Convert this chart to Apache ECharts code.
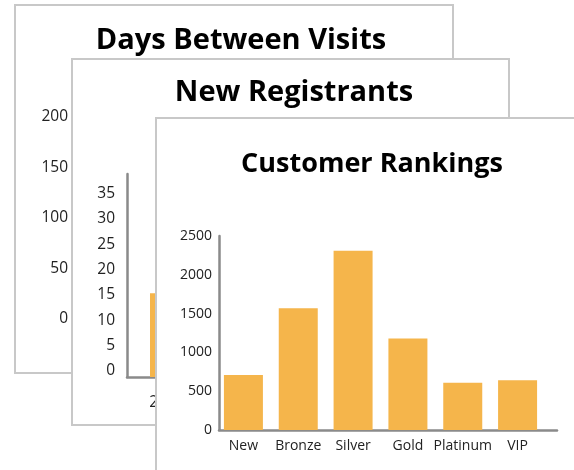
<!DOCTYPE html>
<html>
<head>
<meta charset="utf-8">
<script src="https://cdn.jsdelivr.net/npm/echarts@6/dist/echarts.min.js"></script>
<style>
  body {
    margin: 0;
    width: 574px;
    height: 470px;
    overflow: hidden;
    background: #fff;
    position: relative;
  }
  .card {
    position: absolute;
    box-sizing: border-box;
    border: 2px solid #c8c8c8;
    background: #fff;
  }
  .card .chart {
    position: absolute;
    left: 0;
    top: 0;
    width: 100%;
    height: 100%;
  }
</style>
</head>
<body>
<div class="card" style="left:14px;top:4px;width:440px;height:370px"><div class="chart" id="visits-chart"></div></div>
<div class="card" style="left:71px;top:58px;width:439px;height:368px"><div class="chart" id="registrants-chart"></div></div>
<div class="card" style="left:155px;top:117px;width:422px;height:370px"><div class="chart" id="rankings-chart"></div></div>

<script>
const visitTicks = [0, 50, 100, 150, 200]
const visitCategories = []
const visitValues = []

const registrantTicks = [0, 5, 10, 15, 20, 25, 30, 35, 40]
const registrantCategories = ['2011', '2012', '2013', '2014']
const registrantValues = [16.5, null, null, null]

const rankingTicks = [0, 500, 1000, 1500, 2000, 2500]
const rankingCategories = ['New', 'Bronze', 'Silver', 'Gold', 'Platinum', 'VIP']
const rankingValues = [710, 1570, 2310, 1180, 610, 640]

const FONT = 'Open Sans'
const BAR_COLOR = '#f5b54b'
const AXIS_LINE = { show: true, lineStyle: { color: '#8a8a8a', width: 2.5 } }
const plain = v => String(v)

function tickRange (ticks) {
  return { min: ticks[0], max: ticks[ticks.length - 1], interval: ticks[1] - ticks[0] }
}

function titleOf (text, x, y, size) {
  return {
    text: text,
    left: x,
    top: y,
    padding: 0,
    textAlign: 'center',
    textStyle: { fontFamily: FONT, fontWeight: 'bold', fontSize: size, color: '#000' }
  }
}

// back card
const visitsChart = echarts.init(document.getElementById('visits-chart'))
visitsChart.setOption({
  animation: false,
  title: titleOf('Days Between Visits', 225, 20, 29),
  grid: { left: 60, top: 111, width: 360, height: 202 },
  xAxis: {
    type: 'category',
    data: visitCategories,
    axisLine: AXIS_LINE,
    axisTick: { show: false }
  },
  yAxis: {
    type: 'value',
    ...tickRange(visitTicks),
    axisLine: AXIS_LINE,
    axisTick: { show: false },
    splitLine: { show: false },
    axisLabel: { fontFamily: FONT, fontSize: 15.5, color: '#222', margin: 8, formatter: plain }
  },
  series: [{ type: 'bar', data: visitValues, itemStyle: { color: BAR_COLOR } }]
})

// middle card
const registrantsChart = echarts.init(document.getElementById('registrants-chart'))
registrantsChart.setOption({
  animation: false,
  title: titleOf('New Registrants', 221, 18, 29),
  grid: { left: 54, top: 114, width: 320, height: 203 },
  xAxis: {
    type: 'category',
    data: registrantCategories,
    axisLine: AXIS_LINE,
    axisTick: { show: false },
    axisLabel: { fontFamily: FONT, fontSize: 15.5, color: '#222', margin: 18, interval: 0 }
  },
  yAxis: {
    type: 'value',
    ...tickRange(registrantTicks),
    axisLine: AXIS_LINE,
    axisTick: { show: false },
    splitLine: { show: false },
    axisLabel: {
      fontFamily: FONT,
      fontSize: 15.5,
      color: '#222',
      margin: 12,
      showMaxLabel: false,
      verticalAlign: 'bottom',
      lineHeight: 12,
      formatter: plain
    }
  },
  series: [{ type: 'bar', data: registrantValues, barWidth: 34, itemStyle: { color: BAR_COLOR } }]
})

// front card
const rankingsChart = echarts.init(document.getElementById('rankings-chart'))
const rankingRange = tickRange(rankingTicks)
rankingsChart.setOption({
  animation: false,
  title: titleOf('Customer Rankings', 215, 32, 27),
  grid: [
    { left: 59, top: 117, width: 329, height: 194 },
    { left: 62, top: 117, width: 338, height: 194 }
  ],
  xAxis: [{
    type: 'category',
    gridIndex: 0,
    data: rankingCategories,
    axisLine: { show: false },
    axisTick: { show: false },
    axisLabel: { fontFamily: FONT, fontSize: 14, color: '#222', margin: 9, interval: 0 }
  }, {
    type: 'value',
    gridIndex: 1,
    min: 0,
    max: 1,
    axisLine: AXIS_LINE,
    axisTick: { show: false },
    axisLabel: { show: false },
    splitLine: { show: false }
  }],
  yAxis: [{
    type: 'value',
    gridIndex: 0,
    ...rankingRange,
    show: false
  }, {
    type: 'value',
    gridIndex: 1,
    ...rankingRange,
    axisLine: AXIS_LINE,
    axisTick: { show: false },
    splitLine: { show: false },
    axisLabel: { fontFamily: FONT, fontSize: 14, color: '#222', margin: 7, formatter: plain }
  }],
  series: [{
    type: 'bar',
    xAxisIndex: 0,
    yAxisIndex: 0,
    data: rankingValues,
    barWidth: 39,
    itemStyle: { color: BAR_COLOR }
  }]
})
</script>
</body>
</html>
